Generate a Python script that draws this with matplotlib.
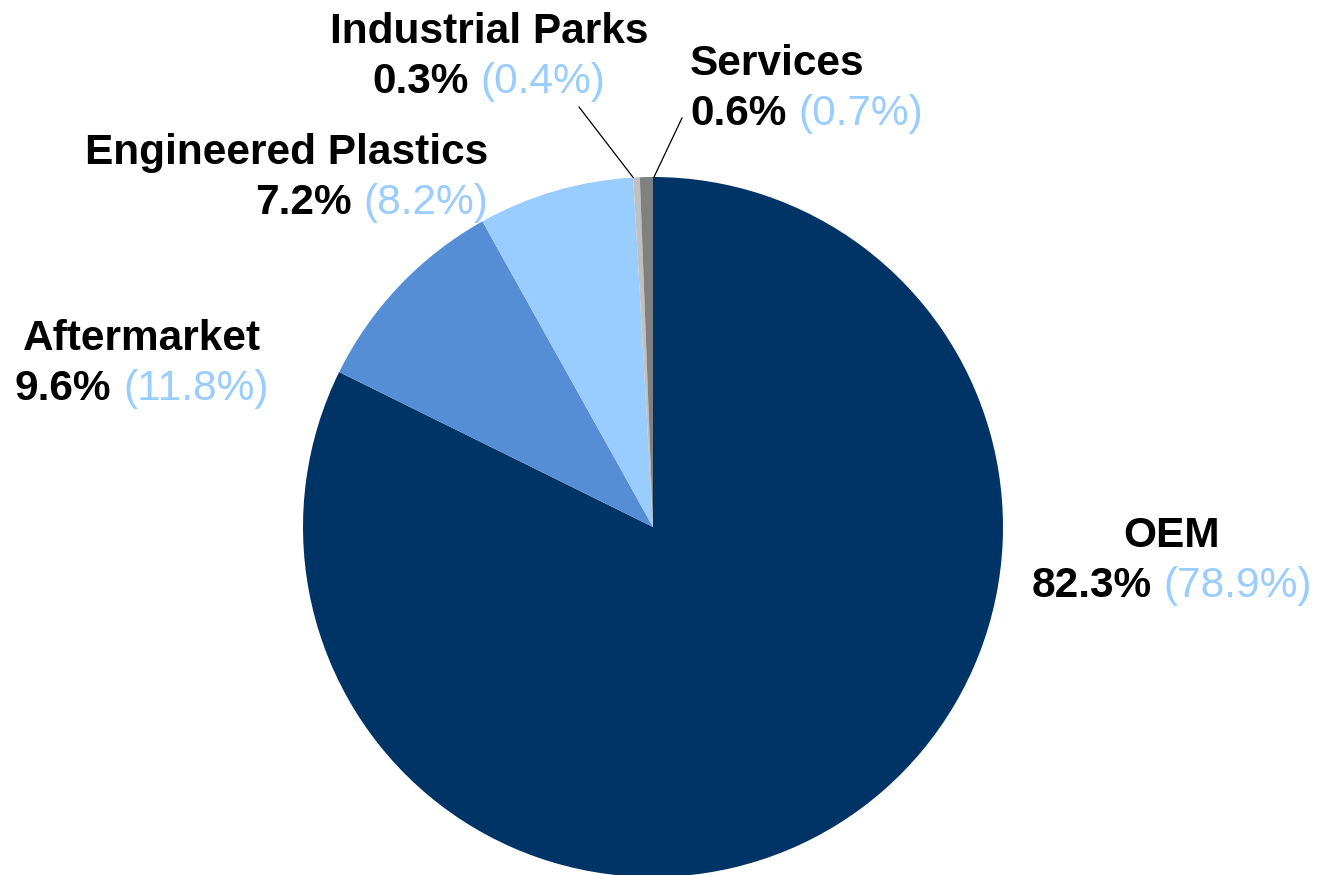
import numpy as np
import matplotlib
matplotlib.use("Agg")
import matplotlib.pyplot as plt

# ---- data ----
categories = ["OEM", "Aftermarket", "Engineered Plastics", "Industrial Parks", "Services"]
shares = [82.3, 9.6, 7.2, 0.3, 0.6]          # current share (%)
prior_shares = [78.9, 11.8, 8.2, 0.4, 0.7]   # share shown in parentheses (%)
colors = ["#003366", "#558ED5", "#99CCFF", "#C0C0C0", "#808080"]
light_blue = "#99CCFF"

W, H = 1318, 875
plt.rcParams['font.family'] = ['Liberation Sans', 'DejaVu Sans']
FS = 30.5

fig = plt.figure(figsize=(W / 100, H / 100), dpi=100)
ax = fig.add_axes([0, 0, 1, 1])
wedges, _ = ax.pie(shares, colors=colors, startangle=90, counterclock=False,
                   radius=350, center=(653, H - 527),
                   wedgeprops=dict(linewidth=0))
ax.set_xlim(0, W)
ax.set_ylim(0, H)
ax.set_aspect('equal')
ax.axis('off')

renderer = fig.canvas.get_renderer()

# label anchor positions (pixel, from top), alignment
label_pos = {
    "OEM": (1172, 547, "center"),
    "Aftermarket": (141.5, 350, "center"),
    "Engineered Plastics": (488, 164, "right"),
    "Industrial Parks": (489, 43, "center"),
    "Services": (690, 75, "left"),
}
LINE = 50
GAP = 11.8

for cat, cur, prev in zip(categories, shares, prior_shares):
    x, yb, ha = label_pos[cat]
    ax.text(x, H - yb, cat, ha=ha, va='baseline', fontsize=FS,
            fontweight='bold', color='black')
    y2 = H - (yb + LINE)
    t1 = ax.text(0, y2, f"{cur:.1f}%", ha='left', va='baseline', fontsize=FS,
                 fontweight='bold', color='black')
    t2 = ax.text(0, y2, f"({prev:.1f}%)", ha='left', va='baseline', fontsize=FS,
                 color=light_blue)
    w1 = t1.get_window_extent(renderer).width
    w2 = t2.get_window_extent(renderer).width
    total = w1 + GAP + w2
    if ha == "center":
        left = x - total / 2
    elif ha == "right":
        left = x - total
    else:
        left = x
    t1.set_x(left)
    t2.set_x(left + w1 + GAP)

# leader lines for the tiny slices
def edge_point(wedge, theta):
    cx, cy = wedge.center
    r = wedge.r
    return cx + r * np.cos(np.radians(theta)), cy + r * np.sin(np.radians(theta))

ip = wedges[categories.index("Industrial Parks")]
sv = wedges[categories.index("Services")]
px, py = edge_point(ip, ip.theta2)
ax.plot([579, px], [H - 107, py], color='black', lw=0.9)
px, py = edge_point(sv, sv.theta1)
ax.plot([682, px + 1], [H - 118, py], color='black', lw=0.9)

fig.savefig("out.png", dpi=100)
